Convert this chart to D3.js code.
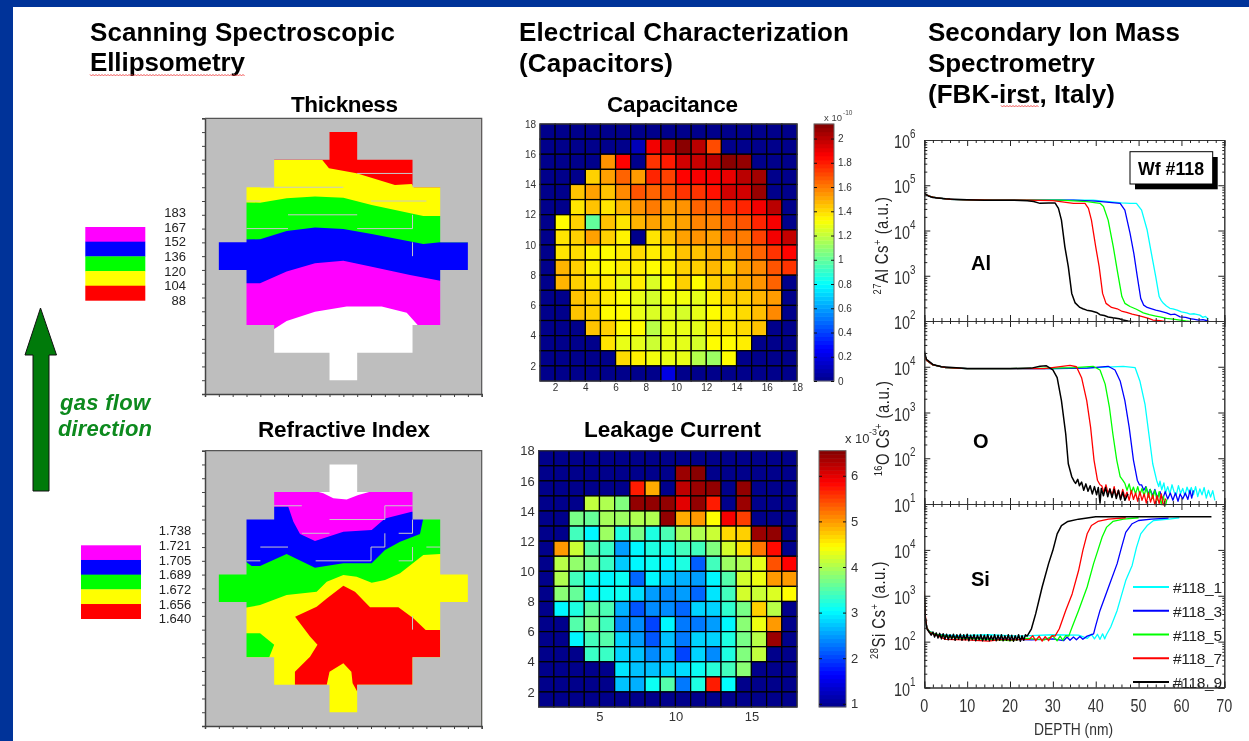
<!DOCTYPE html>
<html><head><meta charset="utf-8">
<script src="https://cdn.jsdelivr.net/npm/d3@7"></script>
<style>
html,body{margin:0;padding:0;background:#fff;overflow:hidden}
svg{display:block;filter:blur(0.4px)}
text{font-family:"Liberation Sans",Arial,sans-serif}
</style></head><body>
<svg id="c" width="1249" height="741"></svg>
<script>
// ---------- colour ramps ----------
const bandColors=["#ff00ff","#0000ff","#00ff00","#ffff00","#ff0000"];
const thicknessLabels=["183","167","152","136","120","104","88"];
const indexLabels=["1.738","1.721","1.705","1.689","1.672","1.656","1.640"];

// ---------- wafer outline (grid units, rows counted from the top) ----------
const waferOutline=[[9,1],[11,1],[11,3],[15,3],[15,5],[17,5],[17,9],[19,9],[19,11],[17,11],[17,15],[15,15],[15,17],[11,17],[11,19],[9,19],[9,17],[5,17],[5,15],[3,15],[3,11],[1,11],[1,9],[3,9],[3,5],[5,5],[5,3],[9,3]];

// ---------- thickness boundaries ----------
const thickYellowEdge=[[0,3.02],[8.48,3.02],[8.96,3.63],[10.96,3.99],[13.73,4.84],[14.94,4.76],[15.1,5],[20,5]];
const thickGreenEdge=[[0,6.05],[3.98,6.12],[5.9,5.8],[7.95,5.68],[10,5.76],[12.05,6.29],[15.78,7.09],[20,7.09]];
const thickBlueEdge=[[0,8.83],[3.98,8.78],[5.9,8.17],[7.95,7.93],[10,8.03],[12.05,8.39],[15.78,9.12],[17,9],[20,9]];
const thickMagentaEdge=[[0,11.97],[3.98,11.97],[5.9,11.12],[7.95,10.52],[10,10.33],[12.05,10.76],[14.82,11.37],[17,11.78],[20,11.78]];
const thickWhiteEdge=[[0,15.28],[5,15.28],[5.9,14.7],[7.95,14.03],[10.24,13.66],[12.77,13.66],[14.58,14.1],[15.42,15.04],[20,15.04]];
const thickArtifacts=[[[6,7],[11,7]],[[3,6],[4,6]],[[4,5],[10,5]],[[12,6],[16,6]],[[3,8],[6,8]],[[11,8],[15,8],[15,7]],[[15,9],[15,10]],[[11,4],[15,4]]];

// ---------- refractive index boundaries ----------
const riMagentaEdge=[[0,3],[8.2,3],[8.55,3.1],[9.28,3.46],[10.24,3.54],[11.08,3.22],[11.93,2.98],[20,2.98]];
const riBlueEdge=[[0,4.07],[6.02,4.07],[6.39,5.16],[6.87,6.05],[7.95,6.56],[10,5.88],[12.05,5.76],[13.01,4.92],[14.94,4.43],[20,4.43]];
const riGreenEdge=[[0,8.06],[2.96,8.06],[3.37,8.38],[3.98,8.38],[5.9,7.51],[7.95,8.5],[10,8.18],[12.05,8.18],[13.01,7.22],[14.1,6.61],[15.54,6.05],[15.78,4.9],[20,4.9]];
const riYellowEdge=[[0,11.4],[3,11.4],[3.98,11.21],[5.9,10.48],[8.07,10.24],[8.8,9.52],[10,9.03],[10.96,9.15],[12.05,9.59],[13.01,9.39],[14.1,8.91],[15.78,7.58],[17,7.51],[20,7.51]];
const riRedPatch=[[6.51,12.06],[8.07,11.33],[8.8,10.73],[10,9.81],[10.84,10.24],[11.93,11.38],[13.98,11.38],[15.06,12.18],[15.95,13.03],[17,13.03],[17,15],[15,15],[15,17],[11,17],[11,17.5],[10.67,16.9],[10.58,16.05],[10,15.45],[9,16.05],[8.8,17],[6.5,17],[6.5,16.05],[7.59,14.97],[8.13,14.1],[7.59,13.5]];
const riGreenPatch=[[2.96,13.26],[3.98,13.26],[5,14.1],[4.64,15],[2.96,15]];
const riArtifacts=[[[5,4],[7,4]],[[15,4],[13,4],[13,5],[9,5]],[[7,6],[9,6]],[[14,6],[15,6],[15,5]],[[13,6],[13,7],[12,7],[12,8],[8,8]],[[4,7],[6,7]],[[3,8],[4,8]],[[14,8],[15,8],[15,7]],[[16,7],[17,7]],[[15,12],[15,13]]];

// ---------- capacitance (x 1e-10), rows from the top, 17 columns ----------
const capacitanceRows=[
[0,0,0,0,0,0,0,0,0,0,0,0,0,0,0,0,0],
[0,0,0,0,0,0,0.1,1.88,2.0,2.1,2.0,1.7,0,0,0,0,0],
[0,0,0,0,1.55,1.85,0,1.75,1.8,1.95,1.97,2.0,2.1,2.08,0,0,0],
[0,0,0,1.42,1.52,1.65,1.53,1.78,1.72,1.85,1.87,1.87,1.9,2.0,2.05,0,0],
[0,0,1.45,1.52,1.45,1.57,1.68,1.65,1.68,1.75,1.75,1.82,1.95,1.95,2.07,0,0],
[0,0,1.38,1.45,1.38,1.47,1.55,1.6,1.52,1.55,1.65,1.65,1.75,1.78,1.88,2.0,0],
[0,1.33,1.42,1.0,1.45,1.38,1.48,1.52,1.48,1.52,1.58,1.58,1.65,1.68,1.78,1.87,0],
[0,1.38,1.42,1.52,1.42,1.35,0,1.38,1.45,1.52,1.55,1.52,1.62,1.6,1.72,1.88,1.98],
[0,1.38,1.4,1.35,1.33,1.36,1.4,1.36,1.38,1.45,1.45,1.5,1.5,1.58,1.65,1.75,1.85],
[0,1.48,1.42,1.35,1.33,1.36,1.36,1.33,1.36,1.42,1.42,1.47,1.42,1.52,1.57,1.68,1.75],
[0,1.48,1.42,1.38,1.36,1.28,1.36,1.25,1.33,1.42,1.33,1.42,1.46,1.5,1.55,1.65,0],
[0,0,1.45,1.42,1.36,1.32,1.28,1.24,1.3,1.3,1.27,1.35,1.42,1.42,1.48,1.53,0],
[0,0,1.45,1.42,1.33,1.33,1.28,1.25,1.27,1.24,1.28,1.33,1.37,1.4,1.46,1.57,0],
[0,0,0,1.45,1.42,1.33,1.33,1.18,1.28,1.28,1.27,1.37,1.37,1.4,1.45,0,0],
[0,0,0,0,1.38,1.28,1.27,1.22,1.28,1.27,1.24,1.33,1.33,1.36,0,0,0],
[0,0,0,0,0,1.4,1.35,1.3,1.28,1.28,1.17,1.12,1.33,0,0,0,0],
[0,0,0,0,0,0,0,0,0.2,0,0,0,0,0,0,0,0]];
const capacitanceRange=[0,2.12];
const capacitanceXTicks=[2,4,6,8,10,12,14,16,18];
const capacitanceYTicks=[2,4,6,8,10,12,14,16,18];
const capacitanceBarTicks=[0,0.2,0.4,0.6,0.8,1,1.2,1.4,1.6,1.8,2];

// ---------- leakage current, rows from the top ----------
const leakageRows=[
[.93,.93,.93,.93,.93,.93,.93,.93,.93,.93,.93,.93,.93,.93,.93,.93,.93],
[.93,.93,.93,.93,.93,.93,.93,.93,.93,6.4,6.5,.93,.93,.93,.93,.93,.93],
[.93,.93,.93,.93,.93,.93,5.7,4.9,.93,6.2,6.4,6.45,.93,6.45,.93,.93,.93],
[.93,.93,.93,4.1,4.0,3.75,6.45,6.45,6.45,6.0,6.45,5.7,.93,6.4,.93,.93,.93],
[.93,.93,3.7,3.6,3.95,3.9,4.0,4.0,6.45,4.9,5.0,4.45,5.9,5.5,.93,.93,.93],
[.93,.93,3.4,3.0,3.9,3.2,3.7,3.2,3.45,3.95,4.0,4.15,4.65,4.7,6.4,6.45,.93],
[.93,5.0,4.15,3.5,3.35,2.5,3.0,3.2,3.2,3.4,3.4,3.75,4.2,4.6,5.2,5.8,.93],
[.93,4.05,3.85,3.7,3.35,2.75,3.0,3.1,3.0,3.2,2.15,3.4,3.9,4.0,4.3,5.4,5.85],
[.93,4.0,3.4,3.15,3.0,3.1,2.2,3.0,2.75,2.6,2.5,3.0,3.5,4.2,4.35,5.0,5.0],
[.93,3.8,3.6,3.0,3.1,3.1,2.85,2.5,2.4,2.5,2.2,2.9,3.4,4.2,4.15,4.25,4.45],
[.93,3.0,3.2,3.55,3.45,2.6,2.1,2.4,2.4,2.2,2.8,2.8,3.3,3.7,4.7,4.05,.93],
[.93,.93,3.5,3.7,3.4,2.4,2.4,2.0,3.0,2.3,2.3,2.5,3.0,3.8,4.35,5.0,.93],
[.93,.93,3.0,3.4,3.5,2.8,2.5,2.1,2.7,2.3,2.8,2.8,3.2,3.7,4.05,6.4,.93],
[.93,.93,.93,3.35,3.35,2.8,2.7,2.4,2.7,2.0,2.8,2.4,3.2,3.75,4.1,.93,.93],
[.93,.93,.93,.93,.93,2.9,2.7,2.7,2.8,2.85,3.1,3.25,3.4,3.8,.93,.93,.93],
[.93,.93,.93,.93,.93,2.7,2.6,3.1,3.5,2.3,3.2,5.7,3.05,.93,.93,.93,.93],
[.93,.93,.93,.93,.93,.93,.93,.93,.93,.93,.93,.93,.93,.93,.93,.93,.93]];
const leakageRange=[0.93,6.55];
const leakageXTicks=[5,10,15];
const leakageYTicks=[2,4,6,8,10,12,14,16,18];
const leakageBarTicks=[1,2,3,4,5,6];

// ---------- SIMS: [depth nm, log10 counts] ----------
const alCyan=[[0,4.82],[.5,4.79],[1.5,4.75],[3,4.72],[6,4.69],[10,4.68],[16,4.67],[24,4.67],[32,4.67],[39.4,4.67],[44.9,4.62],[46,4.61],[48,4.6],[49.5,4.6],[50.7,4.45],[52,4.01],[53,3.49],[54,2.98],[54.8,2.54],[55.3,2.45],[55.8,2.39],[56.5,2.33],[57.3,2.28],[58,2.27],[59,2.24],[60,2.2],[61.2,2.18],[62,2.15],[63,2.16],[64.3,2.13],[65,2.08],[65.6,2.1],[66.3,2.04]];
const alBlue=[[0,4.82],[.5,4.79],[1.5,4.75],[3,4.72],[6,4.69],[10,4.68],[16,4.67],[24,4.67],[30,4.67],[34.8,4.67],[40,4.65],[45.7,4.6],[46.8,4.45],[48,3.94],[48.9,3.49],[49.7,2.98],[50.5,2.5],[51.2,2.35],[52,2.3],[52.7,2.28],[54,2.24],[55,2.22],[56.5,2.18],[57.5,2.14],[58.5,2.15],[59.7,2.09],[61,2.08],[62,2.05],[62.8,2.04],[64,2.02],[65,2.03],[66.3,2.0]];
const alGreen=[[0,4.82],[.5,4.79],[1.5,4.75],[3,4.72],[6,4.69],[10,4.68],[16,4.67],[24,4.67],[31.7,4.67],[38,4.64],[41,4.6],[41.8,4.53],[42.9,4.23],[44.1,3.64],[45,3.13],[46.1,2.54],[46.8,2.39],[48,2.32],[49.5,2.26],[51.1,2.18],[52.5,2.14],[54,2.11],[55,2.09],[56.5,2.06],[58,2.04],[59.7,2.02],[61,2.0],[62.8,1.98]];
const alRed=[[0,4.82],[.5,4.79],[1.5,4.75],[3,4.72],[6,4.69],[10,4.68],[16,4.67],[24,4.67],[30,4.66],[34.8,4.6],[37.5,4.6],[38.3,4.49],[39,4.23],[40,3.64],[40.8,3.2],[41.6,2.61],[42.4,2.39],[43.7,2.3],[45,2.27],[46,2.22],[47.2,2.19],[48.5,2.15],[50,2.12],[51.1,2.09],[52.5,2.05],[53.4,2.02],[55,2.01],[56,1.99],[57.3,1.98]];
const alBlack=[[0,4.83],[.3,4.8],[1,4.76],[2,4.73],[3,4.72],[5,4.7],[7,4.69],[10,4.68],[14,4.67],[18,4.67],[21,4.67],[24,4.66],[25.5,4.64],[27,4.6],[29,4.61],[30.5,4.61],[31.3,4.49],[32,4.23],[32.8,3.64],[33.6,3.2],[34.4,2.61],[35.2,2.4],[36.3,2.3],[37,2.27],[37.9,2.24],[39,2.22],[40.2,2.19],[41,2.14],[42,2.12],[42.9,2.09],[44,2.07],[45.5,2.05],[46.4,2.02],[47.5,2.0],[48.8,1.98]];

const oCyan=[[0,4.3],[.5,4.14],[2,4.04],[5,3.98],[10,3.96],[20,3.96],[30,3.96],[40,3.98],[46.4,4.01],[49.2,3.98],[50.3,3.69],[51.5,3.18],[52.4,2.53],[53.3,1.88],[54.2,1.52],[54.7,1.38],[55,1.5],[55.4,1.31],[55.9,1.46],[56.3,1.24],[56.8,1.38],[57.3,1.22],[57.8,1.42],[58.3,1.26],[58.8,1.2],[59.3,1.4],[59.8,1.23],[60.3,1.34],[60.8,1.18],[61.3,1.37],[61.8,1.24],[62.3,1.36],[62.8,1.2],[63.3,1.38],[63.8,1.16],[64.3,1.33],[64.8,1.2],[65.3,1.36],[65.8,1.13],[66.3,1.3],[66.8,1.15],[67.3,1.29],[67.8,1.08]];
const oBlue=[[0,4.3],[.5,4.14],[2,4.04],[5,3.98],[10,3.96],[20,3.96],[30,3.96],[38,3.97],[42.9,4.01],[44.5,3.93],[45.7,3.69],[46.8,3.26],[47.8,2.68],[48.8,1.96],[49.7,1.52],[50.2,1.42],[50.7,1.42],[51.2,1.3],[51.7,1.38],[52.2,1.22],[52.7,1.32],[53.3,1.18],[53.8,1.32],[54.4,1.14],[55,1.27],[55.6,1.1],[56.2,1.27],[56.8,1.11],[57.4,1.24],[58,1.08],[58.6,1.24],[59.2,1.06],[59.7,1.22],[60.3,1.11],[60.9,1.24],[61.5,1.1],[62,1.3],[62.4,1.13],[62.8,1.3]];
const oGreen=[[0,4.3],[.5,4.14],[2,4.04],[5,3.98],[10,3.96],[20,3.96],[30,3.97],[35,3.98],[39.4,4.01],[41,3.93],[42.2,3.62],[43.2,3.11],[44,2.53],[44.9,1.96],[45.7,1.6],[46.3,1.52],[46.8,1.45],[47.3,1.3],[47.8,1.44],[48.3,1.24],[48.8,1.37],[49.3,1.22],[49.8,1.38],[50.3,1.2],[50.8,1.34],[51.3,1.18],[51.8,1.37],[52.3,1.15],[52.7,1.32],[53.3,1.12],[53.8,1.3],[54.3,1.08],[54.8,1.27],[55.3,.98],[55.8,1.17],[56.2,.92],[56.6,1.1]];
const oRed=[[0,4.3],[.5,4.14],[2,4.04],[5,3.98],[10,3.96],[20,3.96],[28,3.96],[34,4.03],[35.5,4],[36.7,3.76],[37.9,3.26],[38.8,2.68],[39.6,1.96],[40.4,1.52],[41,1.42],[41.4,1.4],[41.9,1.26],[42.4,1.42],[42.9,1.22],[43.3,1.33],[43.8,1.18],[44.3,1.38],[44.8,1.16],[45.3,1.3],[45.8,1.12],[46.3,1.32],[46.8,1.14],[47.3,1.26],[47.8,1.08],[48.3,1.3],[48.8,1.1],[49.3,1.24],[49.8,1.06],[50.3,1.27],[50.8,1.08],[51.3,1.22],[51.8,1.02],[52.3,1.24],[52.8,1.04],[53.3,1.2],[53.8,.98],[54.3,1.18],[54.8,1.01],[55.3,1.22],[55.8,.94],[56.3,1.12]];
const oBlack=[[0,4.34],[.5,4.16],[2,4.05],[4,4],[10,3.96],[20,3.96],[25,3.97],[27,4.01],[28.5,4.02],[30,3.93],[31,3.76],[32,3.26],[33,2.53],[33.6,1.88],[34.4,1.6],[35,1.49],[35.3,1.45],[35.8,1.54],[36.2,1.4],[36.7,1.48],[37.2,1.3],[37.7,1.44],[38.2,1.28],[38.7,1.4],[39.2,1.22],[39.7,1.38],[40.2,1.2],[40.6,1.36],[41,1.02],[41.3,1.34],[41.8,1.18],[42.3,1.36],[42.8,1.16],[43.3,1.33],[43.8,1.14],[44.3,1.32],[44.8,1.12],[45.3,1.3],[45.8,1.09],[46.3,1.26],[46.8,1.08],[47.5,1.22]];

const siCyan=[[0,3.05],[.2,2.55],[.6,2.3],[1.2,2.22],[3,2.15],[8,2.13],[15,2.15],[22,2.12],[30,2.15],[36,2.14],[38,2.07],[39,2.16],[39.7,2.06],[40.4,2.16],[41,2.05],[41.6,2.17],[42.1,2.06],[42.5,2.15],[43.5,2.32],[45,2.68],[47,3.33],[48.5,3.66],[49.5,4.05],[50.5,4.35],[52,4.53],[53.5,4.64],[57,4.67],[59.5,4.7]];
const siBlue=[[0,3.05],[.2,2.55],[.6,2.3],[1.2,2.22],[3,2.15],[8,2.1],[15,2.06],[25,2.04],[30,2.06],[32.5,2.02],[33.3,2.1],[34,2.03],[34.8,2.1],[35.5,2.04],[36.3,2.11],[37,2.05],[38,2.12],[39.5,2.17],[40,2.35],[41,2.68],[43,3.19],[45,3.7],[46,4.05],[47,4.38],[48.5,4.57],[50,4.64],[53,4.67],[57,4.69]];
const siGreen=[[0,3.1],[.2,2.55],[.6,2.3],[1.2,2.22],[3,2.15],[8,2.08],[15,2.05],[20,2.02],[24,2.07],[28,2.04],[30,2.12],[31,2.02],[31.7,2.12],[32.3,2.03],[33,2.13],[33.7,2.12],[34.5,2.32],[36,2.68],[38,3.19],[39.5,3.7],[40.5,3.99],[41.5,4.28],[42.5,4.49],[44,4.62],[46.5,4.67],[50,4.7]];
const siRed=[[0,3.1],[.2,2.6],[.6,2.3],[1.2,2.2],[3,2.13],[5,2.05],[10,2.04],[15,2.01],[18,2.05],[20,2.04],[24.5,2.05],[25.3,2.13],[26,2.02],[26.8,2.12],[27.5,2.01],[28.2,2.11],[29,2.02],[29.8,2.13],[30.5,2.12],[31.5,2.28],[33,2.68],[34.5,3.04],[36,3.55],[37,3.99],[38,4.35],[39,4.53],[40.5,4.62],[43,4.67],[47,4.7]];
const siBlack=[[0,3],[.2,2.54],[.6,2.28],[1.2,2.2],[1.6,2.14],[2,2.21],[2.4,2.1],[2.8,2.19],[3.2,2.08],[3.6,2.18],[4,2.06],[4.4,2.17],[4.8,2.05],[5.2,2.16],[5.6,2.04],[6,2.15],[6.4,2.05],[6.8,2.16],[7.2,2.03],[7.6,2.15],[8,2.05],[8.4,2.16],[8.8,2.03],[9.2,2.15],[9.6,2.04],[10,2.16],[10.4,2.02],[10.8,2.14],[11.2,2.04],[11.6,2.15],[12,2.02],[12.4,2.14],[12.8,2.04],[13.2,2.15],[13.6,2.02],[14,2.14],[14.4,2.03],[14.8,2.15],[15.2,2.02],[15.6,2.13],[16,2.03],[16.4,2.15],[16.8,2.02],[17.2,2.14],[17.6,2.03],[18,2.15],[18.4,2.02],[18.8,2.13],[19.2,2.03],[19.6,2.15],[20,2.02],[20.4,2.14],[20.8,2.01],[21.2,2.13],[21.6,2.03],[22,2.15],[22.4,2.01],[22.8,2.13],[23.2,2.03],[23.6,2.15],[24,2.12],[25,2.28],[26,2.61],[27.5,3.19],[29,3.7],[30,3.99],[31,4.35],[32,4.53],[33.5,4.62],[36,4.67],[40,4.72],[55,4.72],[67,4.72]];

const simsColors=["#00ffff","#0000ff","#00ff00","#ff0000","#000000"];
const simsNames=["#118_1","#118_3","#118_5","#118_7","#118_9"];
const depthTicks=[0,10,20,30,40,50,60,70];
const depthMinor=[2,4,6,8,12,14,16,18,22,24,26,28,32,34,36,38,42,44,46,48,52,54,56,58,62,64,66,68];
const alDecades=[2,3,4,5,6];
const oDecades=[1,2,3,4];
const siDecades=[1,2,3,4];

// ---------- drawing ----------
const svg=d3.select("#c");
const FONT='"Liberation Sans",Arial,sans-serif';
svg.append("rect").attr("width",1249).attr("height",741).attr("fill","#fff");
const defs=svg.append("defs");

function label(x,y,text,size,opts={}){
  const t=svg.append("text").attr("x",x).attr("y",y).text(text).attr("font-size",size)
    .attr("fill",opts.fill||"#000").attr("font-weight",opts.bold?"bold":"normal")
    .attr("text-anchor",opts.anchor||"start");
  if(opts.italic)t.attr("font-style","italic");
  if(opts.len)t.attr("textLength",opts.len).attr("lengthAdjust",opts.adjust||"spacing");
  return t;
}
function squiggle(x0,x1,y){
  const pts=d3.range(x0,x1,1.5).map((x,i)=>[x,y+(i%2?1:-0.6)]);
  svg.append("path").attr("d",d3.line()(pts)).attr("fill","none").attr("stroke","#f04a4a").attr("stroke-width",.9);
}
// headings
label(90,41,"Scanning Spectroscopic",26,{bold:1,len:305});
label(90,71,"Ellipsometry",26,{bold:1,len:155});
squiggle(90,245,75);
label(519,41,"Electrical Characterization",26,{bold:1,len:330});
label(519,72,"(Capacitors)",26,{bold:1,len:154});
label(928,41,"Secondary Ion Mass",26,{bold:1,len:252});
label(928,72,"Spectrometry",26,{bold:1,len:167});
label(928,103,"(FBK-irst, Italy)",26,{bold:1,len:187});
squiggle(1001,1039,106);
label(291,112,"Thickness",22.5,{bold:1,len:107});
label(258,437,"Refractive Index",22.5,{bold:1,len:172});
label(607,112,"Capacitance",22.5,{bold:1,len:131});
label(584,437,"Leakage Current",22.5,{bold:1,len:177});

// arrow and its caption
svg.append("path").attr("d","M40.5,308 L56.5,355 L49,355 L49,491 L33,491 L33,355 L25,355 Z")
  .attr("fill","#007a0a").attr("stroke","#111").attr("stroke-width",1);
label(60,410,"gas flow",22,{bold:1,italic:1,fill:"#0d8a1e",len:90});
label(58,436,"direction",22,{bold:1,italic:1,fill:"#0d8a1e",len:94});

// contour wafer maps: bands are layered, then the grey surround masks them
function waferMap(box,fills,patches,artifacts){
  const x=d3.scaleLinear().domain([0,20]).range([box.x0,box.x1]);
  const y=d3.scaleLinear().domain([0,20]).range([box.y0,box.y1]);
  const g=svg.append("g");
  const w=g.append("g");
  const area=d3.area().x(d=>x(d[0])).y1(d=>y(d[1])).y0(y(20));
  const poly=d3.line().x(d=>x(d[0])).y(d=>y(d[1]));
  w.append("rect").attr("x",box.x0).attr("y",box.y0).attr("width",box.x1-box.x0).attr("height",box.y1-box.y0).attr("fill",box.base);
  fills.forEach(f=>w.append("path").attr("d",area(f.edge)).attr("fill",f.color));
  patches.forEach(f=>w.append("path").attr("d",poly(f.pts)+"Z").attr("fill",f.color));
  g.append("path").attr("fill-rule","evenodd").attr("fill","#bebebe")
    .attr("d",`M${box.x0},${box.y0}H${box.x1}V${box.y1}H${box.x0}Z`+poly(waferOutline)+"Z");
  artifacts.forEach(a=>g.append("path").attr("d",poly(a)).attr("fill","none").attr("stroke","#c8c8c8").attr("stroke-width",1));
  const ax=g.append("g").attr("transform",`translate(${box.x0},0)`).call(d3.axisLeft(y).ticks(20).tickSize(3).tickFormat(""));
  const ay=g.append("g").attr("transform",`translate(0,${box.y1})`).call(d3.axisBottom(x).ticks(20).tickSize(3).tickFormat(""));
  [ax,ay].forEach(a=>{a.selectAll("line").attr("stroke","#444");a.select("path").attr("stroke","#444").attr("stroke-width",1.5)});
  g.append("path").attr("d",`M${box.x0},${box.y0}H${box.x1}V${box.y1}`).attr("fill","none").attr("stroke","#555").attr("stroke-width",1.2);
}
waferMap({x0:205,x1:481.7,y0:118.3,y1:394,base:"#ff0000"},
 [{edge:thickYellowEdge,color:"#ffff00"},{edge:thickGreenEdge,color:"#00ff00"},{edge:thickBlueEdge,color:"#0000ff"},{edge:thickMagentaEdge,color:"#ff00ff"},{edge:thickWhiteEdge,color:"#ffffff"}],[],thickArtifacts);
waferMap({x0:205,x1:481.7,y0:450.7,y1:726,base:"#ffffff"},
 [{edge:riMagentaEdge,color:"#ff00ff"},{edge:riBlueEdge,color:"#0000ff"},{edge:riGreenEdge,color:"#00ff00"},{edge:riYellowEdge,color:"#ffff00"}],
 [{pts:riRedPatch,color:"#ff0000"},{pts:riGreenPatch,color:"#00ff00"}],riArtifacts);

// discrete legends
function bandLegend(x,y,labels,labelX,labelY){
  const band=d3.scaleBand().domain(d3.range(bandColors.length)).range([y,y+73.4]);
  svg.selectAll(null).data(bandColors).join("rect").attr("x",x).attr("width",60)
    .attr("y",(d,i)=>band(i)).attr("height",band.bandwidth()+.3).attr("fill",d=>d);
  svg.selectAll(null).data(labels).join("text").attr("x",labelX).attr("y",(d,i)=>labelY+i*14.7)
    .attr("text-anchor","end").attr("font-size",13).attr("fill","#222").attr("dy","0.35em").text(d=>d);
}
bandLegend(85.3,227,thicknessLabels,186,212.3);
bandLegend(81,545.3,indexLabels,191.3,530.7);

// heat maps
function jet(range){
  const [a,b]=range,s=b-a;
  return d3.scaleLinear().domain([0,.125,.375,.625,.875,1].map(t=>a+t*s))
    .range(["#00008b","#0000ff","#00ffff","#ffff00","#ff0000","#800000"]).clamp(true);
}
function heat(rows,range,box,cfg){
  const x=d3.scaleLinear().domain([1,18]).range([box.x0,box.x1]);
  const y=d3.scaleLinear().domain([1,18]).range([box.y1,box.y0]);
  const color=jet(range);
  const g=svg.append("g");
  rows.forEach((row,r)=>g.selectAll(null).data(row).join("rect")
    .attr("x",(d,c)=>x(c+1)).attr("width",(d,c)=>x(c+2)-x(c+1))
    .attr("y",y(18-r)).attr("height",y(17-r)-y(18-r))
    .attr("fill",d=>color(d)).attr("stroke","#000").attr("stroke-width",cfg.grid));
  g.append("rect").attr("x",box.x0).attr("y",box.y0).attr("width",box.x1-box.x0).attr("height",box.y1-box.y0)
    .attr("fill","none").attr("stroke","#445").attr("stroke-width",1);
  const ax=g.append("g").attr("transform",`translate(${box.x0},0)`).call(d3.axisLeft(y).tickValues(cfg.yTicks).tickSize(0).tickPadding(cfg.pad));
  const ay=g.append("g").attr("transform",`translate(0,${box.y1})`).call(d3.axisBottom(x).tickValues(cfg.xTicks).tickSize(0).tickPadding(cfg.padX));
  [ax,ay].forEach(a=>{a.select("path").remove();a.selectAll("text").attr("font-size",cfg.font).attr("fill","#333").attr("font-family",FONT)});
  const b=cfg.bar;
  const cy=d3.scaleLinear().domain(range).range([box.y1,box.y0]);
  const levels=d3.range(64).map(i=>range[0]+(i+.5)*(range[1]-range[0])/64);
  const step=(box.y1-box.y0)/64;
  const cb=svg.append("g");
  cb.selectAll("rect").data(levels).join("rect").attr("x",b.x0).attr("width",b.x1-b.x0)
    .attr("y",d=>cy(d)-step/2-.2).attr("height",step+.4).attr("fill",d=>color(d));
  cb.append("rect").attr("x",b.x0).attr("y",box.y0).attr("width",b.x1-b.x0).attr("height",box.y1-box.y0)
    .attr("fill","none").attr("stroke","#666").attr("stroke-width",1);
  const left=cb.append("g").attr("transform",`translate(${b.x0},0)`).call(d3.axisLeft(cy).tickValues(cfg.barTicks).tickSize(-3).tickFormat(""));
  const right=cb.append("g").attr("transform",`translate(${b.x1},0)`).call(d3.axisRight(cy).tickValues(cfg.barTicks).tickSize(-3).tickPadding(cfg.barPad).tickFormat(d=>d));
  [left,right].forEach(a=>{a.select("path").remove();a.selectAll("line").attr("stroke","#111")});
  right.selectAll("text").attr("font-size",cfg.barFont).attr("fill","#333").attr("font-family",FONT);
}
heat(capacitanceRows,capacitanceRange,{x0:540,x1:797,y0:124,y1:381},
 {grid:1.25,yTicks:capacitanceYTicks,xTicks:capacitanceXTicks,pad:4,padX:3,font:10,
  bar:{x0:814,x1:834},barTicks:capacitanceBarTicks,barPad:4,barFont:10});
heat(leakageRows,leakageRange,{x0:538.7,x1:797,y0:450.7,y1:707},
 {grid:1.25,yTicks:leakageYTicks,xTicks:leakageXTicks,pad:4,padX:5,font:13,
  bar:{x0:819,x1:846},barTicks:leakageBarTicks,barPad:5,barFont:13});
label(824,121,"x 10",9.5,{fill:"#444"});
label(843,115,"-10",6.5,{fill:"#444"});
label(845,443,"x 10",13,{fill:"#333"});
label(869,435,"-3",9,{fill:"#333"});

// SIMS panels
const xDepth=d3.scaleLinear().domain([0,70]).range([924.3,1224.3]);
const simsPanels=[
 {id:"pAl",top:140,bottom:321,lo:2,hi:6,decades:alDecades,series:[alCyan,alBlue,alGreen,alRed,alBlack]},
 {id:"pO",top:321,bottom:504,lo:1,hi:5,decades:oDecades,series:[oCyan,oBlue,oGreen,oRed,oBlack]},
 {id:"pSi",top:504,bottom:687.5,lo:1,hi:5,decades:siDecades,series:[siCyan,siBlue,siGreen,siRed,siBlack]}
];
simsPanels.forEach(p=>{
  const y=d3.scaleLog().domain([10**p.lo,10**p.hi]).range([p.bottom,p.top]);
  const majors=d3.range(p.lo,p.hi+1).map(e=>10**e);
  const minors=[];majors.slice(0,-1).forEach(m=>[2,3,4,5,6,7,8,9].forEach(k=>minors.push(m*k)));
  defs.append("clipPath").attr("id",p.id).append("rect").attr("x",924.3).attr("y",p.top).attr("width",300).attr("height",p.bottom-p.top+1.5);
  const line=d3.line().x(d=>xDepth(d[0])).y(d=>y(10**d[1]));
  const g=svg.append("g").attr("clip-path",`url(#${p.id})`);
  g.selectAll("path").data(p.series).join("path").attr("d",line).attr("fill","none")
    .attr("stroke",(d,i)=>simsColors[i]).attr("stroke-width",(d,i)=>i===4?1.5:1.3).attr("stroke-linejoin","round");
  const ax=svg.append("g");
  const put=(gen,tx,ty)=>ax.append("g").attr("transform",`translate(${tx},${ty})`).call(gen.tickFormat(""));
  put(d3.axisLeft(y).tickValues(majors).tickSize(-6),924.3,0);
  put(d3.axisLeft(y).tickValues(minors).tickSize(-3),924.3,0);
  put(d3.axisRight(y).tickValues(majors).tickSize(-6),1224.3,0);
  put(d3.axisRight(y).tickValues(minors).tickSize(-2),1224.3,0);
  put(d3.axisBottom(xDepth).tickValues(depthTicks).tickSize(-6),0,p.bottom);
  put(d3.axisBottom(xDepth).tickValues(depthMinor).tickSize(-3),0,p.bottom);
  put(d3.axisTop(xDepth).tickValues(depthTicks).tickSize(-6),0,p.top);
  put(d3.axisTop(xDepth).tickValues(depthMinor).tickSize(-3),0,p.top);
  ax.selectAll("line").attr("stroke","#222");
  ax.selectAll("path").attr("stroke","#333").attr("stroke-width",1);
  // decade labels: "10" with a raised exponent in one text element
  const dec=ax.selectAll(null).data(p.decades).join("text")
    .attr("transform",e=>`translate(894,${y(10**e)+8}) scale(.76,1)`).attr("font-size",19).attr("fill","#333");
  dec.append("tspan").text("10");
  dec.append("tspan").attr("font-size",13).attr("dy",-10).text(e=>e);
});
svg.selectAll(null).data(depthTicks).join("text").attr("x",d=>xDepth(d)).attr("y",712)
  .attr("text-anchor","middle").attr("font-size",19).attr("fill","#333")
  .attr("textLength",d=>d?16:8).attr("lengthAdjust","spacingAndGlyphs").text(d=>d);
label(1034,735,"DEPTH (nm)",17,{fill:"#333",len:79,adjust:"spacingAndGlyphs"});

function yLabel(cx,cy,iso,el){
  const t=svg.append("text").attr("transform",`translate(${cx},${cy}) rotate(-90) scale(.85,1)`).attr("text-anchor","middle")
    .attr("font-size",17.5).attr("fill","#222").attr("letter-spacing",.6);
  t.append("tspan").attr("font-size",11).attr("dy",-7).text(iso);
  t.append("tspan").attr("dy",7).text(el+" Cs");
  t.append("tspan").attr("font-size",11).attr("dy",-7).text("+");
  t.append("tspan").attr("dy",7).text(" (a.u.)");
}
yLabel(888,245.5,"27","Al");
yLabel(889,428.5,"16","O");
yLabel(885,610,"28","Si");

label(971,270,"Al",20,{bold:1});
label(973,448,"O",20,{bold:1});
label(971,586,"Si",20,{bold:1});

// wafer box
svg.append("rect").attr("x",1135).attr("y",157).attr("width",82.7).attr("height",32.3).attr("fill","#000");
svg.append("rect").attr("x",1130).attr("y",151.7).attr("width",82.7).attr("height",32.3).attr("fill","#fff").attr("stroke","#000").attr("stroke-width",1);
label(1138,175,"Wf #118",19,{bold:1,len:66,adjust:"spacingAndGlyphs"});

// series key
const keyY=d3.scalePoint().domain(simsNames).range([587,682]);
svg.selectAll(null).data(simsNames).join("line").attr("x1",1133).attr("x2",1169)
  .attr("y1",d=>keyY(d)).attr("y2",d=>keyY(d)).attr("stroke",(d,i)=>simsColors[i]).attr("stroke-width",2);
svg.selectAll(null).data(simsNames).join("text").attr("x",1173).attr("y",d=>keyY(d)+6)
  .attr("font-size",15.5).attr("fill","#222").attr("textLength",49).text(d=>d);

// slide border last, so the soft edge stays clean
svg.append("rect").attr("width",1249).attr("height",7).attr("fill","#003399");
svg.append("rect").attr("width",13).attr("height",741).attr("fill","#003399");
</script>
</body></html>
